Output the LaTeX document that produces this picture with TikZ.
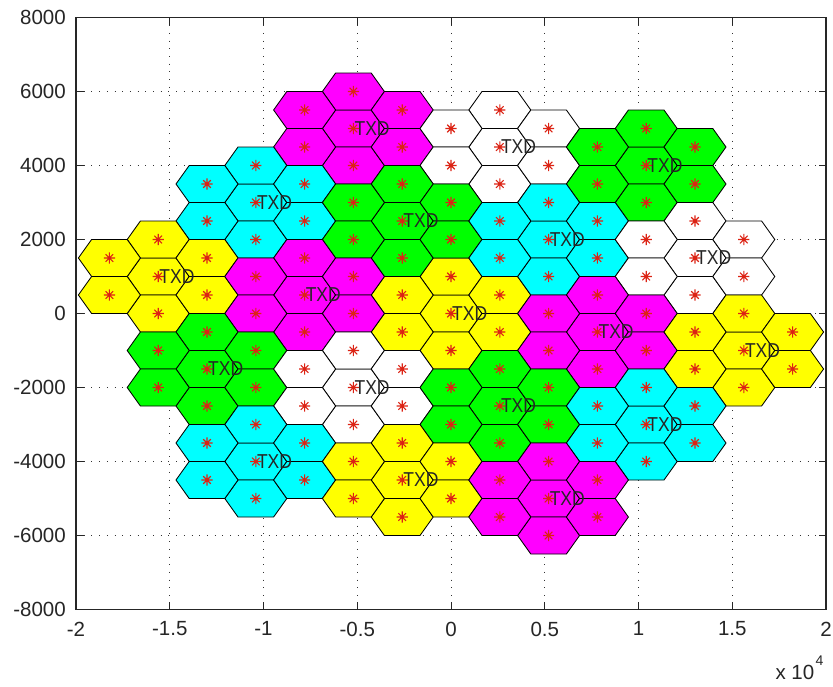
\documentclass[tikz,border=0pt]{standalone}
\usepackage{graphicx}
\usepackage{fontspec}
\setmainfont{Liberation Sans}
\definecolor{cyel}{RGB}{255,255,0}
\definecolor{cmag}{RGB}{255,0,255}
\definecolor{ccya}{RGB}{0,255,255}
\definecolor{cgrn}{RGB}{0,255,0}
\definecolor{cwhi}{RGB}{255,255,255}
\definecolor{starred}{RGB}{220,35,20}
\begin{document}
\begin{tikzpicture}[x=1pt,y=-1pt,
  hexcell/.style={draw=black, line width=0.85pt, line join=miter},
  starmark/.style={draw=starred, line width=1.1pt},
  gridline/.style={line width=0.9pt, dash pattern=on 0.9pt off 6.8pt, black!80},
  axisbox/.style={line width=1.2pt, black!85},
  tickmark/.style={line width=1pt, black!85},
  ticklabel/.style={font=\fontsize{20.5}{24}\selectfont, inner sep=0pt, text=black!85},
  txdlabel/.style={font=\fontsize{17.5}{20}\selectfont, inner sep=0pt, anchor=west, text=black!85}]
\useasboundingbox (0,0) rectangle (833,686);
\fill[white] (0,0) rectangle (833,686);
% grid
\foreach \v in {-1.5,-1,-0.5,0,0.5,1,1.5}{
  \draw[gridline] ({451+187.5*\v},17.5) -- ({451+187.5*\v},609.5);
}
\foreach \v in {-6000,-4000,-2000,0,2000,4000,6000}{
  \draw[gridline] (76,{313.5-0.037*\v}) -- (826,{313.5-0.037*\v});
}
% hexagon clusters
\foreach \ci/\cj/\col in {0/0/cyel, -2/10/cmag, 1/9/cwhi, 4/8/cgrn, -4/6/ccya, -1/5/cgrn, 2/4/ccya, 5/3/cwhi, -6/2/cyel, -3/1/cmag, 3/-1/cmag, 6/-2/cyel, -5/-3/cgrn, -2/-4/cwhi, 1/-5/cgrn, 4/-6/ccya, -4/-8/ccya, -1/-9/cyel, 2/-10/cmag}{
  \foreach \di/\dj in {0/0,0/2,0/-2,1/1,1/-1,-1/1,-1/-1}{
    \pgfmathsetmacro{\X}{451+48.8*(\ci+\di)}
    \pgfmathsetmacro{\Y}{313.5-18.5*(\cj+\dj)}
    \filldraw[hexcell, fill=\col] ({\X-31},\Y) -- ({\X-17.8},{\Y-18.5}) -- ({\X+17.8},{\Y-18.5}) -- ({\X+31},\Y) -- ({\X+17.8},{\Y+18.5}) -- ({\X-17.8},{\Y+18.5}) -- cycle;
    \draw[starmark] ({\X-5.6},\Y) -- ({\X+5.6},\Y) (\X,{\Y-5.6}) -- (\X,{\Y+5.6}) ({\X-3.8},{\Y-3.8}) -- ({\X+3.8},{\Y+3.8}) ({\X-3.8},{\Y+3.8}) -- ({\X+3.8},{\Y-3.8});
  }
}
% TXD labels
\foreach \ci/\cj [count=\k] in {0/0, -2/10, 1/9, 4/8, -4/6, -1/5, 2/4, 5/3, -6/2, -3/1, 3/-1, 6/-2, -5/-3, -2/-4, 1/-5, 4/-6, -4/-8, -1/-9, 2/-10}{
  \node[txdlabel] (txd\k) at ({452+48.8*\ci},{313.5-18.5*\cj}) {\scalebox{1}[1.15]{TXD}};
}
% axis box and ticks
\draw[axisbox] (76,17.5) rectangle (826,609.5);
\foreach \v/\lab [count=\k] in {-2/-2,-1.5/-1.5,-1/-1,-0.5/-0.5,0/0,0.5/0.5,1/1,1.5/1.5,2/2}{
  \draw[tickmark] ({451+187.5*\v},609.5) -- ({451+187.5*\v},602);
  \draw[tickmark] ({451+187.5*\v},17.5) -- ({451+187.5*\v},25);
  \node[ticklabel, anchor=north] (xt\k) at ({451+187.5*\v},621.5) {\lab};
}
\foreach \v [count=\k] in {-8000,-6000,-4000,-2000,0,2000,4000,6000,8000}{
  \draw[tickmark] (76,{313.5-0.037*\v}) -- (83.5,{313.5-0.037*\v});
  \draw[tickmark] (826,{313.5-0.037*\v}) -- (818.5,{313.5-0.037*\v});
  \node[ticklabel, anchor=east] (yt\k) at (66,{313.5-0.037*\v}) {\v};
}
\node[ticklabel, anchor=base east] (xexp) at (814.5,679) {x 10};
\node[font=\fontsize{14}{16}\selectfont, inner sep=0pt, anchor=base west, text=black!85] (xexpfour) at (815.5,665) {4};
\end{tikzpicture}
\end{document}
